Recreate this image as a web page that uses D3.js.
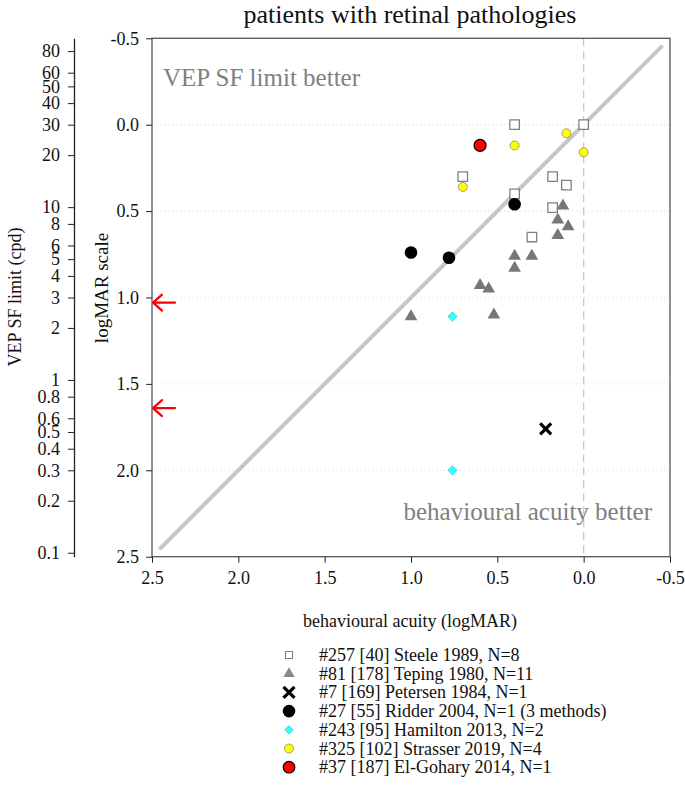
<!DOCTYPE html>
<html><head><meta charset="utf-8">
<script src="https://cdn.jsdelivr.net/npm/d3@7"></script>
<style>body{margin:0;background:#fff} svg{display:block;font-family:"Liberation Serif","Times New Roman",serif}</style>
</head><body><svg id="c" width="685" height="797"></svg>
<script>
// ---- data (logMAR: behavioural acuity x, VEP limit y) ----
const steeleX = [0.40, 0.00, 0.70, 0.40, 0.18, 0.10, 0.18, 0.30];
const steeleY = [0.00, 0.00, 0.30, 0.40, 0.30, 0.35, 0.48, 0.65];
const tepingX = [0.12, 0.15, 0.09, 0.15, 0.40, 0.30, 0.40, 0.60, 0.55, 1.00, 0.52];
const tepingY = [0.47, 0.55, 0.59, 0.64, 0.76, 0.76, 0.83, 0.93, 0.95, 1.11, 1.10];
const petersenX = [0.22];
const petersenY = [1.76];
const ridderX = [0.40, 1.00, 0.78];
const ridderY = [0.46, 0.74, 0.77];
const hamiltonX = [0.76, 0.76];
const hamiltonY = [1.11, 2.00];
const strasserX = [0.10, 0.40, 0.00, 0.70];
const strasserY = [0.05, 0.12, 0.16, 0.36];
const elgoharyX = [0.60];
const elgoharyY = [0.12];
const arrowY = [1.03, 1.64];
const legendLabels = ["#257 [40] Steele 1989, N=8", "#81 [178] Teping 1980, N=11", "#7 [169] Petersen 1984, N=1",
  "#27 [55] Ridder 2004, N=1 (3 methods)", "#243 [95] Hamilton 2013, N=2", "#325 [102] Strasser 2019, N=4",
  "#37 [187] El-Gohary 2014, N=1"];
const logmarTicks = [-0.5, 0.0, 0.5, 1.0, 1.5, 2.0, 2.5];
const gridTicks = [0.0, 0.5, 1.0, 1.5, 2.0];
const cpdTicks = [80, 60, 50, 40, 30, 20, 10, 8, 6, 5, 4, 3, 2, 1, 0.8, 0.6, 0.5, 0.4, 0.3, 0.2, 0.1];

const svg = d3.select("#c");
const L = 152, R = 670, T = 38.3, B = 556.7;
const x = d3.scaleLinear().domain([2.5, -0.5]).range([L, R]);
const y = d3.scaleLinear().domain([-0.5, 2.5]).range([T, B]);
const yc = d3.scaleLog().domain([30 / Math.pow(10, -0.5), 30 / Math.pow(10, 2.5)]).range([T, B]);

// title
svg.append("text").attr("x", 410).attr("y", 23).attr("text-anchor", "middle")
  .attr("font-size", 26).attr("fill", "#111").text("patients with retinal pathologies");

// gridlines
svg.append("g").selectAll("line").data(gridTicks).join("line")
  .attr("x1", L).attr("x2", R).attr("y1", d => y(d)).attr("y2", d => y(d))
  .attr("stroke", "#d8d8d8").attr("stroke-width", 1).attr("stroke-dasharray", "1,3");
// dashed vertical at 0
svg.append("line").attr("x1", x(0)).attr("x2", x(0)).attr("y1", T).attr("y2", B)
  .attr("stroke", "#c8c8c8").attr("stroke-width", 1.3).attr("stroke-dasharray", "8,5");
// identity line
svg.append("line").attr("x1", x(2.45)).attr("y1", y(2.45)).attr("x2", x(-0.45)).attr("y2", y(-0.45))
  .attr("stroke", "#c6c6c6").attr("stroke-width", 4).attr("stroke-linecap", "round");

// annotations
svg.append("text").attr("x", 163).attr("y", 86).attr("font-size", 25).attr("fill", "#808080").text("VEP SF limit better");
svg.append("text").attr("x", 652).attr("y", 520).attr("text-anchor", "end").attr("font-size", 25).attr("fill", "#808080").text("behavioural acuity better");

// frame
svg.append("rect").attr("x", L).attr("y", T).attr("width", R - L).attr("height", B - T)
  .attr("fill", "none").attr("stroke", "#555").attr("stroke-width", 1.3);

// axes
const fs = 18;
const gx = svg.append("g").attr("transform", `translate(0,${B})`)
  .call(d3.axisBottom(x).tickValues(logmarTicks).tickFormat(d3.format(".1f")).tickSize(6).tickSizeOuter(0));
const gy = svg.append("g").attr("transform", `translate(${L},0)`)
  .call(d3.axisLeft(y).tickValues(logmarTicks).tickFormat(d3.format(".1f")).tickSize(6).tickSizeOuter(0));
const gc = svg.append("g").attr("transform", `translate(74,0)`)
  .call(d3.axisLeft(yc).tickValues(cpdTicks).tickFormat(d => String(d)).tickSize(6).tickSizeOuter(0));
[gx, gy, gc].forEach(g => {
  g.selectAll("text").attr("font-size", fs).attr("font-family", "Liberation Serif").attr("fill", "#111");
  g.selectAll("line").attr("stroke", "#222");
  g.select(".domain").attr("stroke", "#222").attr("stroke-width", 1.3);
});
gx.select(".domain").remove();
gy.select(".domain").remove();
gx.selectAll("text").attr("dy", "1.0em");
gc.selectAll("text").attr("x", -14);
gy.selectAll("text").attr("x", -13);
gx.selectAll("text").text(d => d3.format(".1f")(d).replace("−", "-"));
gy.selectAll("text").text(d => d3.format(".1f")(d).replace("−", "-"));

// axis titles
svg.append("text").attr("transform", "translate(21,297) rotate(-90)").attr("text-anchor", "middle")
  .attr("font-size", 18).attr("fill", "#111").text("VEP SF limit (cpd)");
svg.append("text").attr("transform", "translate(108,288) rotate(-90)").attr("text-anchor", "middle")
  .attr("font-size", 19).attr("fill", "#111").text("logMAR scale");
svg.append("text").attr("x", 410).attr("y", 627).attr("text-anchor", "middle")
  .attr("font-size", 18).attr("fill", "#111").text("behavioural acuity (logMAR)");

// red arrows
const ag = svg.append("g");
arrowY.forEach(v => {
  const yy = y(v);
  ag.append("path").attr("d", `M${x(2.5) + 23},${yy} L${x(2.5) + 2},${yy} M${x(2.5) + 10},${yy - 8} L${x(2.5) + 1},${yy} L${x(2.5) + 10},${yy + 8}`)
    .attr("fill", "none").attr("stroke", "#ff0000").attr("stroke-width", 2.2).attr("stroke-linecap", "round").attr("stroke-linejoin", "round");
});

// markers
const sym = (type, size) => d3.symbol().type(type).size(size)();
const series = [
  {xs: steeleX, ys: steeleY, draw: g => g.append("path").attr("d", sym(d3.symbolSquare, 90)).attr("fill", "#fff").attr("stroke", "#808080").attr("stroke-width", 1.3)},
  {xs: tepingX, ys: tepingY, draw: g => g.append("path").attr("d", sym(d3.symbolTriangle, 70)).attr("fill", "#777")},
  {xs: petersenX, ys: petersenY, draw: g => g.append("path").attr("d", "M-5.5,-5.5L5.5,5.5M-5.5,5.5L5.5,-5.5").attr("stroke", "#000").attr("stroke-width", 3.2)},
  {xs: ridderX, ys: ridderY, draw: g => g.append("circle").attr("r", 6.3).attr("fill", "#000")},
  {xs: hamiltonX, ys: hamiltonY, draw: g => g.append("path").attr("d", sym(d3.symbolDiamond2, 55)).attr("fill", "#33ffff").attr("stroke", "#2bb").attr("stroke-width", 0.6)},
  {xs: strasserX, ys: strasserY, draw: g => g.append("circle").attr("r", 4.5).attr("fill", "#ffff00").attr("stroke", "#777").attr("stroke-width", 0.7)},
  {xs: elgoharyX, ys: elgoharyY, draw: g => g.append("circle").attr("r", 6).attr("fill", "#ff0000").attr("stroke", "#000").attr("stroke-width", 1.2)}
];
const mg = svg.append("g");
series.forEach(s => {
  s.xs.forEach((xv, i) => {
    const g = mg.append("g").attr("transform", `translate(${x(xv)},${y(s.ys[i])})`);
    s.draw(g);
  });
});

// legend
const lg = svg.append("g");
const legendDraw = [
  g => g.append("path").attr("d", sym(d3.symbolSquare, 50)).attr("fill", "#fff").attr("stroke", "#808080").attr("stroke-width", 1.1),
  g => g.append("path").attr("d", sym(d3.symbolTriangle, 55)).attr("fill", "#888"),
  g => g.append("path").attr("d", "M-5.5,-5.5L5.5,5.5M-5.5,5.5L5.5,-5.5").attr("stroke", "#000").attr("stroke-width", 3.2),
  g => g.append("circle").attr("r", 6.3).attr("fill", "#000"),
  g => g.append("path").attr("d", sym(d3.symbolDiamond2, 45)).attr("fill", "#33ffff").attr("stroke", "#2bb").attr("stroke-width", 0.6),
  g => g.append("circle").attr("r", 4.5).attr("fill", "#ffff00").attr("stroke", "#777").attr("stroke-width", 0.7),
  g => g.append("circle").attr("r", 5.8).attr("fill", "#ff0000").attr("stroke", "#000").attr("stroke-width", 1.2)
];
legendLabels.forEach((lab, i) => {
  const cy = 655 + i * 18.7;
  const g = lg.append("g").attr("transform", `translate(289,${cy})`);
  legendDraw[i](g);
  lg.append("text").attr("x", 319).attr("y", cy + 6).attr("font-size", 18).attr("fill", "#111").text(lab);
});
</script></body></html>
